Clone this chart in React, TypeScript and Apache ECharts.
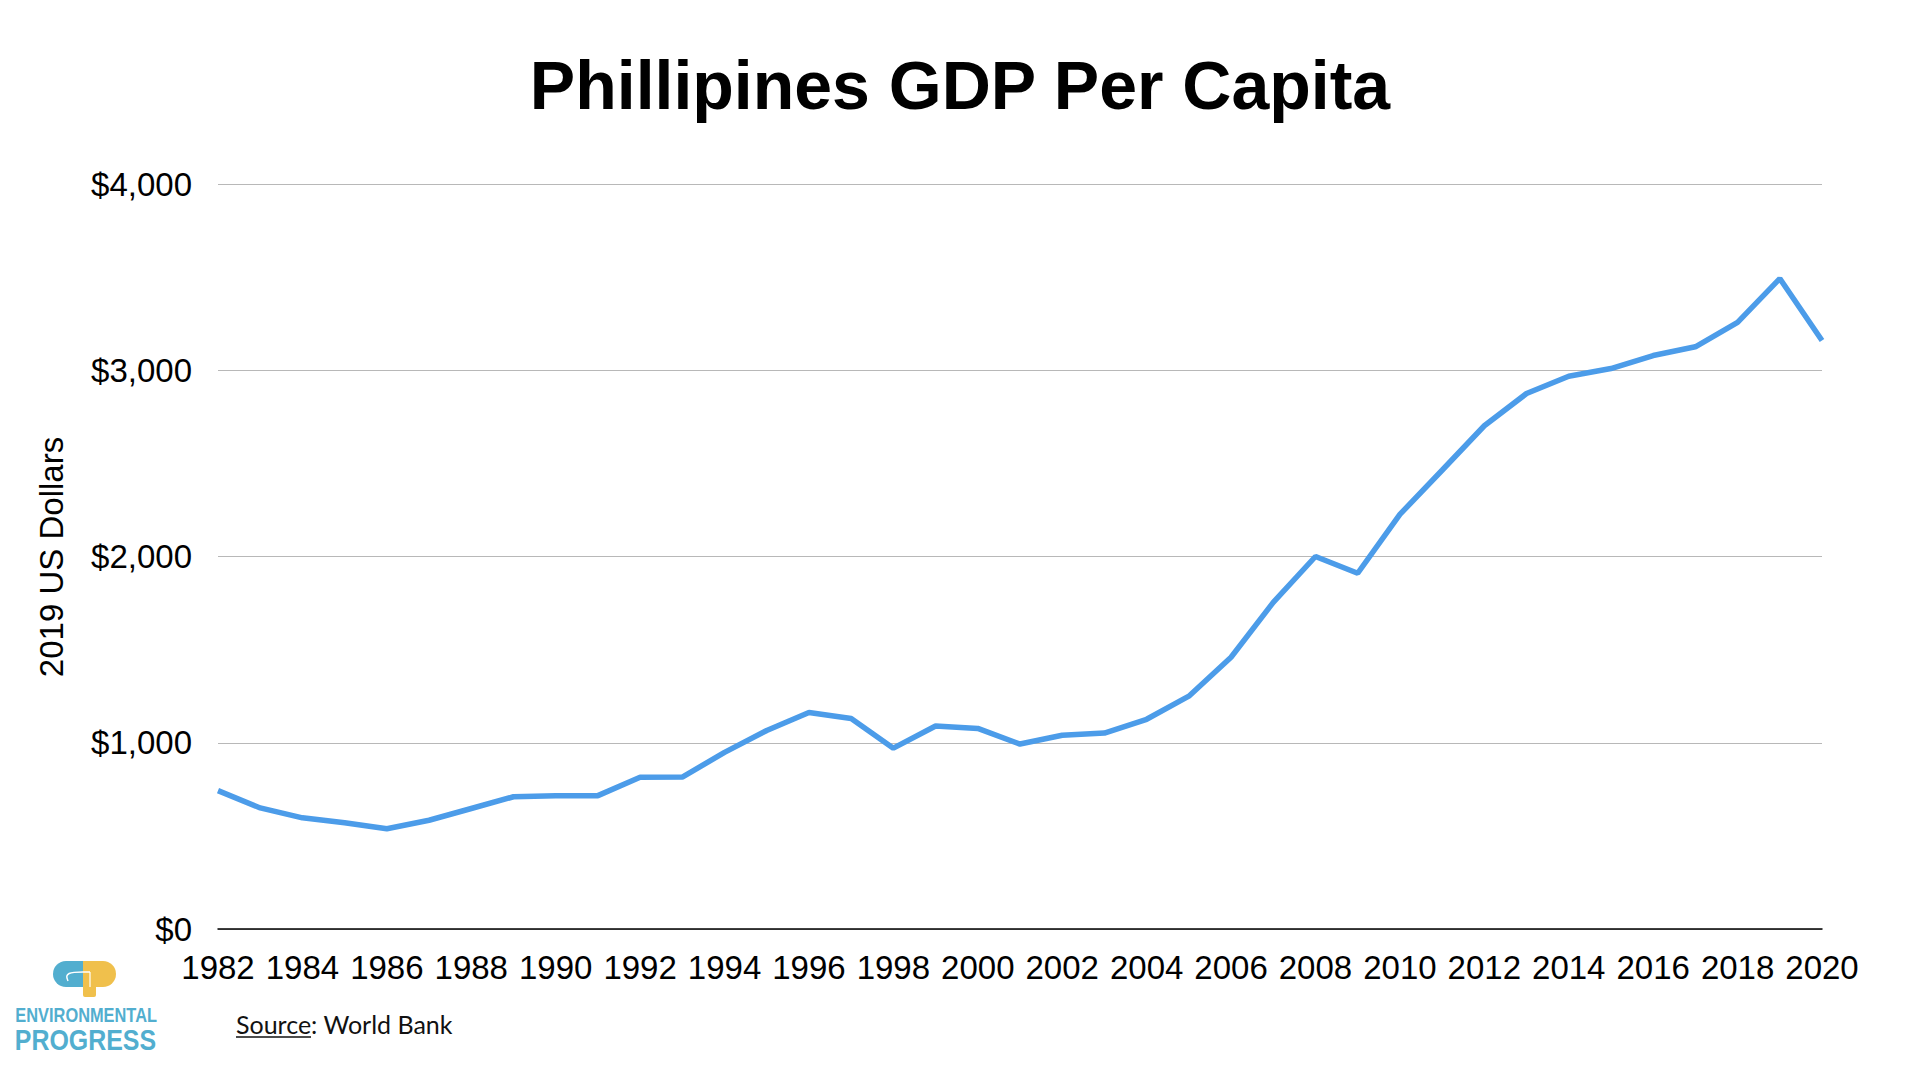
import React, { useEffect, useRef } from "react";
import * as echarts from "echarts";

const years = [
  "1982", "1983", "1984", "1985", "1986", "1987", "1988", "1989", "1990", "1991",
  "1992", "1993", "1994", "1995", "1996", "1997", "1998", "1999", "2000", "2001",
  "2002", "2003", "2004", "2005", "2006", "2007", "2008", "2009", "2010", "2011",
  "2012", "2013", "2014", "2015", "2016", "2017", "2018", "2019", "2020",
];

const gdpPerCapita = [
  743, 650, 597, 570, 538, 584, 647, 710, 716, 716,
  815, 816, 948, 1066, 1162, 1130, 971, 1090, 1077, 993,
  1040, 1052, 1126, 1250, 1459, 1754, 2000, 1910, 2226, 2463,
  2702, 2875, 2968, 3009, 3079, 3126, 3257, 3492, 3160,
];

const yTicks = [0, 1000, 2000, 3000, 4000];

const titleText = "Phillipines GDP Per Capita";
const yAxisTitle = "2019 US Dollars";
const sourceLabel = "Source";
const sourceRest = ": World Bank";

const FONT = "'Liberation Sans', Arial, Helvetica, sans-serif";

export default function App() {
  const ref = useRef<HTMLDivElement>(null);

  useEffect(() => {
    document.body.style.margin = "0";
    if (!ref.current) return;
    const chart = echarts.init(ref.current, null, { renderer: "svg" });
    const logoBlue = "#52aecf";
    const logoYellow = "#f0c04c";

    chart.setOption({
      animation: false,
      backgroundColor: "#ffffff",
      grid: { left: 218, right: 98, top: 184, bottom: 151, containLabel: false },
      xAxis: {
        type: "category",
        data: years,
        boundaryGap: false,
        axisLine: { show: true, lineStyle: { color: "#000000", width: 1.5 } },
        axisTick: { show: false },
        axisLabel: {
          interval: 1,
          color: "#000000",
          fontFamily: FONT,
          fontSize: 33,
          margin: 22,
        },
        splitLine: { show: false },
      },
      yAxis: {
        type: "value",
        min: yTicks[0],
        max: yTicks[yTicks.length - 1],
        interval: yTicks[1] - yTicks[0],
        axisLine: { show: false },
        axisTick: { show: false },
        axisLabel: {
          color: "#000000",
          fontFamily: FONT,
          fontSize: 33,
          margin: 26,
          formatter: (v: number) => "$" + v.toLocaleString("en-US"),
        },
        splitLine: { show: true, lineStyle: { color: "#b8b8b8", width: 1 } },
      },
      series: [
        {
          type: "line",
          data: gdpPerCapita,
          symbol: "none",
          lineStyle: { color: "#4c9ce9", width: 5.5 },
          itemStyle: { color: "#4c9ce9" },
        },
      ],
      graphic: [
        {
          type: "text",
          x: 960,
          y: 85,
          style: {
            text: titleText,
            fill: "#000000",
            font: `bold 68px ${FONT}`,
            align: "center",
            verticalAlign: "middle",
          },
        },
        {
          type: "text",
          x: 51,
          y: 557,
          rotation: Math.PI / 2,
          style: {
            text: yAxisTitle,
            fill: "#000000",
            font: `33px ${FONT}`,
            align: "center",
            verticalAlign: "middle",
          },
        },
        // Source note
        {
          type: "text",
          x: 236,
          y: 1024,
          style: {
            text: sourceLabel + sourceRest,
            fill: "#111111",
            font: `25px Lato, 'Open Sans', sans-serif`,
            align: "left",
            verticalAlign: "middle",
          },
        },
        {
          type: "line",
          shape: { x1: 236, y1: 1037, x2: 311, y2: 1037 },
          style: { stroke: "#111111", lineWidth: 1.5 },
        },
        // Logo icon
        {
          type: "rect",
          shape: { x: 53, y: 961, width: 31, height: 26, r: [13, 0, 0, 13] },
          style: { fill: logoBlue },
        },
        {
          type: "rect",
          shape: { x: 83, y: 961, width: 33, height: 26, r: [0, 13, 13, 0] },
          style: { fill: logoYellow },
        },
        {
          type: "rect",
          shape: { x: 83, y: 961, width: 13, height: 36, r: [0, 0, 2, 2] },
          style: { fill: logoYellow },
        },
        {
          type: "bezierCurve",
          shape: { x1: 68, y1: 981, cpx1: 64, cpy1: 973, x2: 83, y2: 972, cpx2: 70, cpy2: 972 },
          style: { stroke: "#ffffff", lineWidth: 1.5, fill: "none" },
        },
        {
          type: "line",
          shape: { x1: 83, y1: 972, x2: 90, y2: 972 },
          style: { stroke: "#ffffff", lineWidth: 1.5 },
        },
        {
          type: "line",
          shape: { x1: 90, y1: 972, x2: 90, y2: 987 },
          style: { stroke: "#ffffff", lineWidth: 1.2 },
        },
        {
          type: "text",
          x: 13,
          y: 1015,
          scaleX: 0.82,
          originX: 13,
          originY: 1015,
          style: {
            text: "ENVIRONMENTAL",
            fill: logoBlue,
            font: `bold 20px ${FONT}`,
            align: "left",
            verticalAlign: "middle",
          },
        },
        {
          type: "text",
          x: 13,
          y: 1040,
          scaleX: 0.86,
          originX: 13,
          originY: 1040,
          style: {
            text: "PROGRESS",
            fill: logoBlue,
            font: `bold 29px ${FONT}`,
            align: "left",
            verticalAlign: "middle",
          },
        },
      ],
    });

    return () => {
      chart.dispose();
    };
  }, []);

  return <div ref={ref} style={{ width: 1920, height: 1080 }} />;
}
